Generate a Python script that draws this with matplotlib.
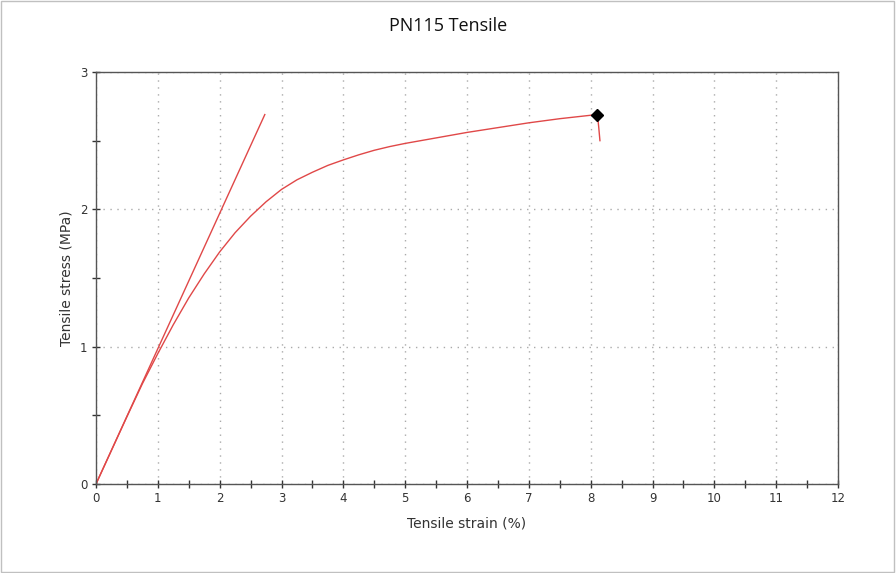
import matplotlib
matplotlib.use("Agg")
import matplotlib.pyplot as plt
from matplotlib.patches import Rectangle
from matplotlib.ticker import MultipleLocator

strain = [0, 0.25, 0.5, 0.75, 1.0, 1.25, 1.5, 1.75, 2.0, 2.25, 2.5, 2.75, 3.0,
          3.25, 3.5, 3.75, 4.0, 4.25, 4.5, 4.75, 5.0, 5.5, 6.0, 6.5, 7.0, 7.5, 8.0, 8.11]
stress = [0, 0.245, 0.49, 0.73, 0.95, 1.16, 1.355, 1.53, 1.69, 1.83, 1.95, 2.055, 2.145,
          2.215, 2.27, 2.32, 2.36, 2.397, 2.43, 2.457, 2.48, 2.52, 2.56, 2.595, 2.63, 2.66, 2.685, 2.69]
break_strain = [8.11, 8.13, 8.15]
break_stress = [2.69, 2.60, 2.50]
tangent_strain = [0, 2.73]
tangent_stress = [0, 2.69]
peak_strain = [8.11]
peak_stress = [2.69]

fig = plt.figure(figsize=(8.96, 5.73), dpi=100)
fig.patches.append(Rectangle((0.001, 0.002), 0.997, 0.996, transform=fig.transFigure,
                             fill=False, edgecolor="#c0c0c0", linewidth=1.0))
ax = fig.add_axes([96/896, (573-484)/573, (838-96)/896, (484-72)/573])

red = "#e04848"
ax.plot(tangent_strain, tangent_stress, color=red, lw=1.0)
ax.plot(strain, stress, color=red, lw=1.0, solid_joinstyle="round")
ax.plot(break_strain, break_stress, color=red, lw=1.0)
ax.plot(peak_strain, peak_stress, marker="D", color="black", markersize=6, linestyle="none")

ax.set_xlim(0, 12)
ax.set_ylim(0, 3)
ax.xaxis.set_major_locator(MultipleLocator(1))
ax.xaxis.set_minor_locator(MultipleLocator(0.5))
ax.yaxis.set_major_locator(MultipleLocator(1))
ax.yaxis.set_minor_locator(MultipleLocator(0.5))
ax.grid(True, which="major", color="#aaaaaa", linestyle=(0, (1, 4)), linewidth=1.0)
ax.tick_params(which="both", direction="inout", color="#333333", labelcolor="#333333",
               labelsize=8.5, width=1.0)
ax.tick_params(which="major", length=6, pad=3)
ax.tick_params(which="minor", length=6)
for s in ax.spines.values():
    s.set_color("#555555")
    s.set_linewidth(1.0)

ax.set_xlabel("Tensile strain (%)", fontsize=10, color="#333333", labelpad=8)
ax.set_ylabel("Tensile stress (MPa)", fontsize=10, color="#333333", labelpad=5)
fig.text(0.5, 1 - 26/573, "PN115 Tensile", ha="center", va="center",
         fontsize=13, family="Open Sans", color="#111111")

fig.savefig("out.png", dpi=100)
